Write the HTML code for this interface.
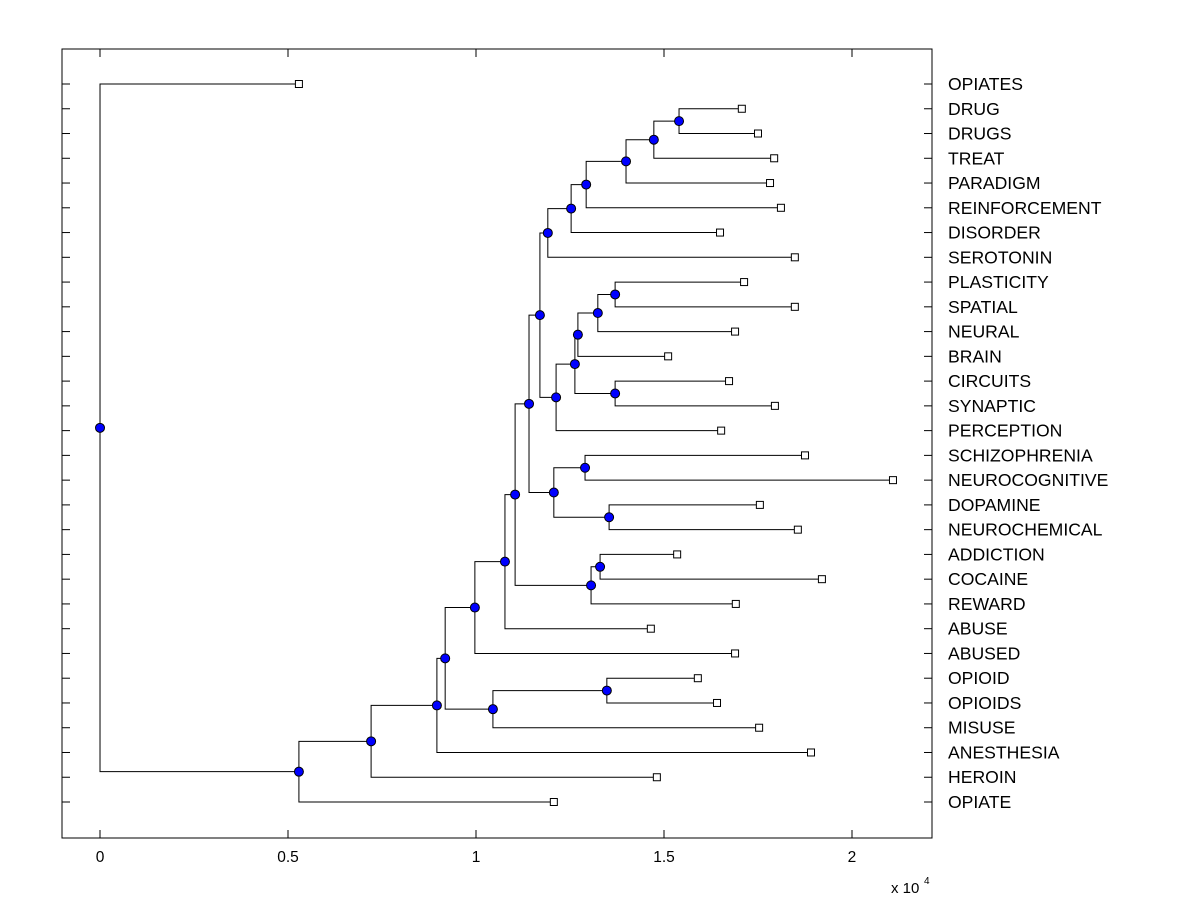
<!DOCTYPE html>
<html><head><meta charset="utf-8">
<style>
body{margin:0;background:#fff;}
svg{display:block;font-family:"Liberation Sans",Arial,sans-serif;}
</style></head>
<body>
<svg id="chart" width="1200" height="900" viewBox="0 0 1200 900"></svg>
<script>
// Leaf labels (top to bottom) and leaf heights (x 10^4)
const leafLabels=["OPIATES","DRUG","DRUGS","TREAT","PARADIGM","REINFORCEMENT","DISORDER","SEROTONIN","PLASTICITY","SPATIAL","NEURAL","BRAIN","CIRCUITS","SYNAPTIC","PERCEPTION","SCHIZOPHRENIA","NEUROCOGNITIVE","DOPAMINE","NEUROCHEMICAL","ADDICTION","COCAINE","REWARD","ABUSE","ABUSED","OPIOID","OPIOIDS","MISUSE","ANESTHESIA","HEROIN","OPIATE"];
const leafValues=[0.529,1.707,1.750,1.793,1.782,1.811,1.649,1.848,1.713,1.848,1.689,1.511,1.673,1.795,1.652,1.875,2.109,1.755,1.856,1.535,1.920,1.691,1.465,1.689,1.590,1.641,1.753,1.891,1.481,1.207];
// Internal nodes: name, merge value, children (leaf index or node name)
const nodeNames=["BB","AA","Z","Y","X","Q","W","V","T","U","S","R","M","O","P","N","J","L","K","I","H","G","F","E","D","C","B","A","root"];
const nodeValues=[1.540,1.473,1.399,1.293,1.253,1.191,1.370,1.324,1.271,1.370,1.263,1.213,1.170,1.290,1.354,1.207,1.141,1.330,1.306,1.104,1.077,1.348,1.045,0.997,0.918,0.896,0.721,0.529,0];
const nodeChildren=[[1,2],["BB",3],["AA",4],["Z",5],["Y",6],["X",7],[8,9],["W",10],["V",11],[12,13],["T","U"],["S",14],["Q","R"],[15,16],[17,18],["O","P"],["M","N"],[19,20],["L",21],["J","K"],["I",22],[24,25],["G",26],["H",23],["E","F"],["D",27],["C",28],["B",29],[0,"A"]];
const xTicks=[0,0.5,1,1.5,2];
const xTickLabels=["0","0.5","1","1.5","2"];

const NS="http://www.w3.org/2000/svg";
const svg=document.getElementById('chart');
const L=62,R=932,T=49,B=838;
const xMin=-0.1011,xMax=2.2128;
const xs=v=>L+(v-xMin)/(xMax-xMin)*(R-L);
const rowTop=84,rowStep=(802-84)/29;
const ys=i=>rowTop+i*rowStep;
function mk(tag,attrs){const e=document.createElementNS(NS,tag);for(const k in attrs)e.setAttribute(k,attrs[k]);svg.appendChild(e);return e;}

let el=mk('rect',{x:L,y:T,width:R-L,height:B-T,fill:'none',stroke:'#000','stroke-width':1});



xTicks.forEach((t,i)=>{
  const x=xs(t);
  let a=mk('line',{x1:x,y1:B,x2:x,y2:B-8,stroke:'#000'});
  
  
  let b=mk('line',{x1:x,y1:T,x2:x,y2:T+8,stroke:'#000'});
  
  
  let tx=mk('text',{x:x,y:B+24,'text-anchor':'middle','font-size':15.5,fill:'#000'});
  tx.textContent=xTickLabels[i];
  
  
});
let ex=mk('text',{x:891,y:893,'font-size':15,fill:'#000'});
ex.textContent='x 10';


let ex2=mk('text',{x:924,y:884,'font-size':10,fill:'#000'});
ex2.textContent='4';



leafLabels.forEach((lab,i)=>{
  const y=ys(i);
  let a=mk('line',{x1:L,y1:y,x2:L+8,y2:y,stroke:'#000'});
  
  
  let b=mk('line',{x1:R,y1:y,x2:R-8,y2:y,stroke:'#000'});
  
  
  let t=mk('text',{x:948,y:y+6,'font-size':17.6,fill:'#000'});
  t.textContent=lab;
  
  
});

const pos={};
leafLabels.forEach((l,i)=>{pos[i]={x:xs(leafValues[i]),y:ys(i)};});
nodeNames.forEach((n,k)=>{
  const ch=nodeChildren[k].map(c=>pos[c]);
  pos[n]={x:xs(nodeValues[k]),y:(ch[0].y+ch[1].y)/2};
});
nodeNames.forEach((n,k)=>{
  const p=pos[n];
  const ch=nodeChildren[k].map(c=>pos[c]);
  const pts=`${ch[0].x},${ch[0].y} ${p.x},${ch[0].y} ${p.x},${ch[1].y} ${ch[1].x},${ch[1].y}`;
  let e=mk('polyline',{points:pts,fill:'none',stroke:'#000','stroke-width':1});
  
  
});
leafLabels.forEach((l,i)=>{
  const p=pos[i];
  let r=mk('rect',{x:p.x-3.5,y:p.y-3.5,width:7,height:7,fill:'#fff',stroke:'#000','stroke-width':1});
  
  
});
nodeNames.forEach(n=>{
  const p=pos[n];
  let c=mk('circle',{cx:p.x,cy:p.y,r:4.5,fill:'#0000ff',stroke:'#000','stroke-width':1});
  
  
});
</script>
</body></html>
